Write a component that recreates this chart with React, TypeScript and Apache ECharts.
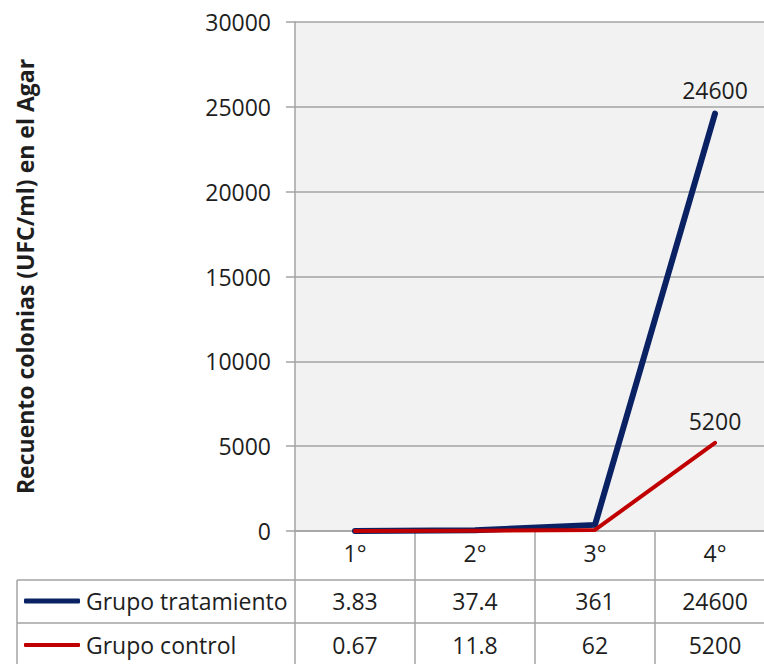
import React, { useEffect, useRef } from "react";
import * as echarts from "echarts";

const categories = ["1°", "2°", "3°", "4°"];
const treatment = [3.83, 37.4, 361, 24600];
const control = [0.67, 11.8, 62, 5200];
const seriesNames = ["Grupo tratamiento", "Grupo control"];
const seriesColors = ["#0a2263", "#c00000"];
const yTitle = "Recuento colonias (UFC/ml) en el Agar";

const FONT = "Open Sans";
const FS = 23;
const TXT = "#1e1e1e";
const GRID = "#a3a3a3";

export default function App() {
  const ref = useRef<HTMLDivElement>(null);
  useEffect(() => {
    if (!ref.current) return;
    const chart = echarts.init(ref.current, undefined, { renderer: "svg" });
    const lastLabel = (arr: number[], dist: number) =>
      arr.map((v, i) =>
        i === arr.length - 1
          ? {
              value: v,
              label: { show: true, position: "top", distance: dist, fontSize: FS, fontFamily: FONT, color: TXT },
            }
          : v
      );
    const tableAxis = (vals: number[], offset: number) => ({
      type: "category",
      data: categories,
      gridIndex: 0,
      position: "bottom",
      offset,
      axisLine: { show: false },
      axisTick: { show: false },
      splitLine: { show: false },
      axisLabel: {
        interval: 0,
        margin: 10,
        fontSize: FS,
        fontFamily: FONT,
        color: TXT,
        formatter: (_v: string, i: number) => String(vals[i]),
      },
    });
    const legendItem = (idx: number, top: number, h: number) => ({
      data: [{ name: seriesNames[idx], itemStyle: { color: seriesColors[idx] } }],
      left: 24,
      top,
      padding: 0,
      icon: "roundRect",
      itemWidth: 56,
      itemHeight: h,
      itemGap: 0,
      textStyle: { fontSize: FS, fontFamily: FONT, color: TXT, lineHeight: 24, padding: [0, 0, 0, 1] },
    });
    chart.setOption({
      animation: false,
      backgroundColor: "#ffffff",
      grid: {
        left: 295,
        top: 22,
        width: 480,
        height: 509,
        containLabel: false,
        outerBoundsMode: "none",
        show: true,
        backgroundColor: "#f2f2f2",
        borderWidth: 0,
      },
      xAxis: [
        {
          type: "category",
          data: categories,
          position: "bottom",
          axisLine: { show: true, lineStyle: { color: GRID, width: 1.5 } },
          axisTick: { show: true, interval: 0, length: 133, lineStyle: { color: GRID, width: 1.5 } },
          splitLine: { show: false },
          axisLabel: { interval: 0, margin: 10, fontSize: FS, fontFamily: FONT, color: TXT },
        },
        tableAxis(treatment, 48),
        tableAxis(control, 92),
      ],
      yAxis: {
        type: "value",
        min: 0,
        max: 30000,
        interval: 5000,
        name: yTitle,
        nameLocation: "middle",
        nameGap: 259,
        nameTextStyle: { fontSize: 23, fontWeight: "bold", fontFamily: FONT, color: TXT },
        axisLine: { show: true, lineStyle: { color: GRID, width: 1.5 } },
        axisTick: { show: true, length: 9, lineStyle: { color: GRID, width: 1.5 } },
        splitLine: { show: true, lineStyle: { color: GRID, width: 1.5 } },
        axisLabel: {
          margin: 24,
          fontSize: FS,
          fontFamily: FONT,
          color: TXT,
          formatter: (v: number) => String(v),
        },
      },
      legend: [legendItem(0, 589, 5), legendItem(1, 633, 4)],
      graphic: [
        { type: "line", shape: { x1: 17, y1: 580, x2: 775, y2: 580 }, style: { stroke: GRID, lineWidth: 1.5 } },
        { type: "line", shape: { x1: 17, y1: 623, x2: 775, y2: 623 }, style: { stroke: GRID, lineWidth: 1.5 } },
        { type: "line", shape: { x1: 17, y1: 580, x2: 17, y2: 664 }, style: { stroke: GRID, lineWidth: 1.5 } },
      ],
      series: [
        {
          name: seriesNames[0],
          type: "line",
          data: lastLabel(treatment, 12),
          symbol: "circle",
          symbolSize: 1,
          itemStyle: { color: "rgba(0,0,0,0)", borderWidth: 0 },
          color: seriesColors[0],
          lineStyle: { width: 6, color: seriesColors[0], cap: "round", join: "round" },
          z: 3,
        },
        {
          name: seriesNames[1],
          type: "line",
          data: lastLabel(control, 10),
          symbol: "circle",
          symbolSize: 1,
          itemStyle: { color: "rgba(0,0,0,0)", borderWidth: 0 },
          color: seriesColors[1],
          lineStyle: { width: 4, color: seriesColors[1], cap: "round", join: "round" },
          z: 4,
        },
      ],
    });
    return () => chart.dispose();
  }, []);
  return <div ref={ref} style={{ width: 764, height: 664, position: "absolute", left: 0, top: 0 }} />;
}
